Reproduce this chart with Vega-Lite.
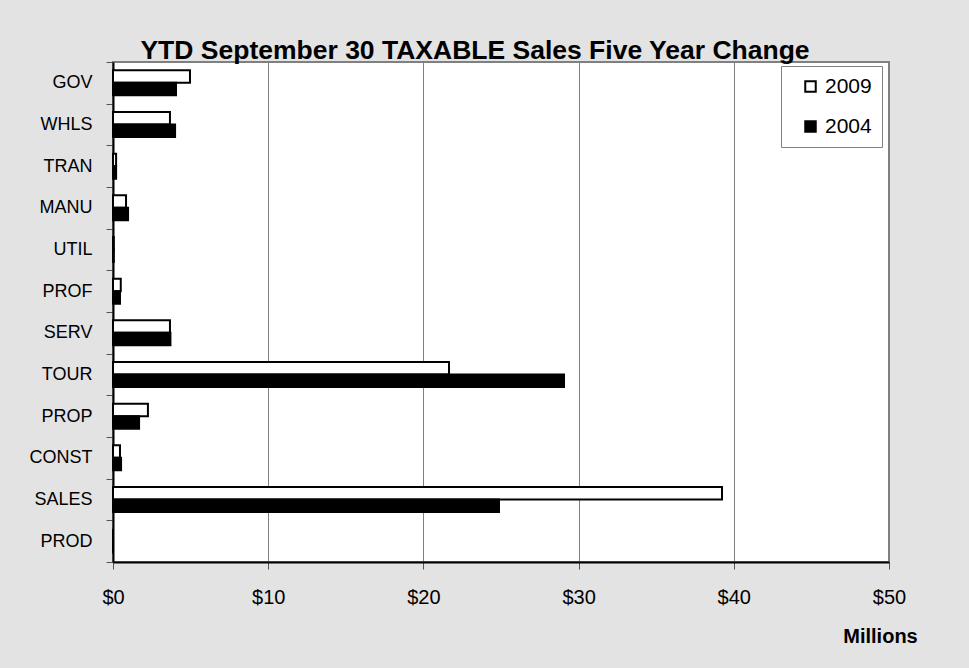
{
  "$schema": "https://vega.github.io/schema/vega-lite/v6.json",
  "width": 776,
  "height": 500,
  "autosize": {"type": "none"},
  "padding": {"left": 113, "top": 62, "right": 80, "bottom": 106},
  "background": "#e3e3e3",
  "title": {
    "text": "YTD September 30 TAXABLE Sales Five Year Change",
    "font": "Liberation Sans",
    "fontSize": 26.5,
    "fontWeight": "bold",
    "color": "black",
    "anchor": "middle",
    "dx": -26,
    "dy": 35,
    "baseline": "alphabetic",
    "offset": 3
  },
  "data": {
    "values": [
      {"cat": "GOV", "year": "2009", "value": 4.96},
      {"cat": "GOV", "year": "2004", "value": 4.06},
      {"cat": "WHLS", "year": "2009", "value": 3.67},
      {"cat": "WHLS", "year": "2004", "value": 4.0},
      {"cat": "TRAN", "year": "2009", "value": 0.2},
      {"cat": "TRAN", "year": "2004", "value": 0.2},
      {"cat": "MANU", "year": "2009", "value": 0.84},
      {"cat": "MANU", "year": "2004", "value": 0.97},
      {"cat": "UTIL", "year": "2009", "value": 0.05},
      {"cat": "UTIL", "year": "2004", "value": 0.05},
      {"cat": "PROF", "year": "2009", "value": 0.5},
      {"cat": "PROF", "year": "2004", "value": 0.45},
      {"cat": "SERV", "year": "2009", "value": 3.67},
      {"cat": "SERV", "year": "2004", "value": 3.7},
      {"cat": "TOUR", "year": "2009", "value": 21.65},
      {"cat": "TOUR", "year": "2004", "value": 29.06},
      {"cat": "PROP", "year": "2009", "value": 2.25},
      {"cat": "PROP", "year": "2004", "value": 1.68},
      {"cat": "CONST", "year": "2009", "value": 0.45},
      {"cat": "CONST", "year": "2004", "value": 0.52},
      {"cat": "SALES", "year": "2009", "value": 39.24},
      {"cat": "SALES", "year": "2004", "value": 24.87},
      {"cat": "PROD", "year": "2009", "value": 0},
      {"cat": "PROD", "year": "2004", "value": 0}
    ]
  },
  "mark": {"type": "bar", "stroke": "black", "strokeWidth": 2},
  "encoding": {
    "y": {
      "field": "cat",
      "type": "nominal",
      "sort": null,
      "scale": {"paddingInner": 0, "paddingOuter": 0},
      "axis": {
        "title": null,
        "tickBand": "extent",
        "tickSize": 7,
        "tickColor": "#555555",
        "labelPadding": 14,
        "labelFont": "Liberation Sans",
        "labelFontSize": 18,
        "labelColor": "black",
        "domainColor": "black",
        "domainWidth": 2,
        "grid": false
      }
    },
    "yOffset": {
      "field": "year",
      "type": "nominal",
      "sort": ["2009", "2004"],
      "scale": {"paddingInner": 0, "paddingOuter": 0.667}
    },
    "x": {
      "field": "value",
      "type": "quantitative",
      "scale": {"domain": [0, 50], "nice": false},
      "axis": {
        "values": [0, 10, 20, 30, 40, 50],
        "labelExpr": "'$' + datum.value",
        "labelFlush": false,
        "labelFont": "Liberation Sans",
        "labelFontSize": 20,
        "labelColor": "black",
        "labelBaseline": "alphabetic",
        "labelPadding": 34,
        "tickSize": 7,
        "tickColor": "#555555",
        "domainColor": "black",
        "domainWidth": 2,
        "grid": true,
        "gridColor": "#808080",
        "gridWidth": 1,
        "title": "Millions",
        "titleFont": "Liberation Sans",
        "titleFontSize": 20,
        "titleFontWeight": "bold",
        "titleColor": "black",
        "titleX": 767,
        "titleY": 80,
        "titleAlign": "center",
        "titleBaseline": "alphabetic",
        "titleAnchor": null
      }
    },
    "fill": {
      "field": "year",
      "type": "nominal",
      "sort": ["2009", "2004"],
      "scale": {"domain": ["2009", "2004"], "range": ["white", "black"]},
      "legend": {
        "title": null,
        "orient": "none",
        "legendX": 668,
        "legendY": 4,
        "fillColor": "white",
        "strokeColor": "#808080",
        "padding": 10,
        "symbolType": "square",
        "symbolSize": 110,
        "symbolStrokeColor": "black",
        "symbolStrokeWidth": 2,
        "symbolOffset": 9,
        "labelFont": "Liberation Sans",
        "labelFontSize": 21,
        "labelColor": "black",
        "labelOffset": 4,
        "rowPadding": 18
      }
    }
  },
  "config": {
    "view": {"stroke": "#808080", "strokeWidth": 2, "fill": "white"}
  }
}
